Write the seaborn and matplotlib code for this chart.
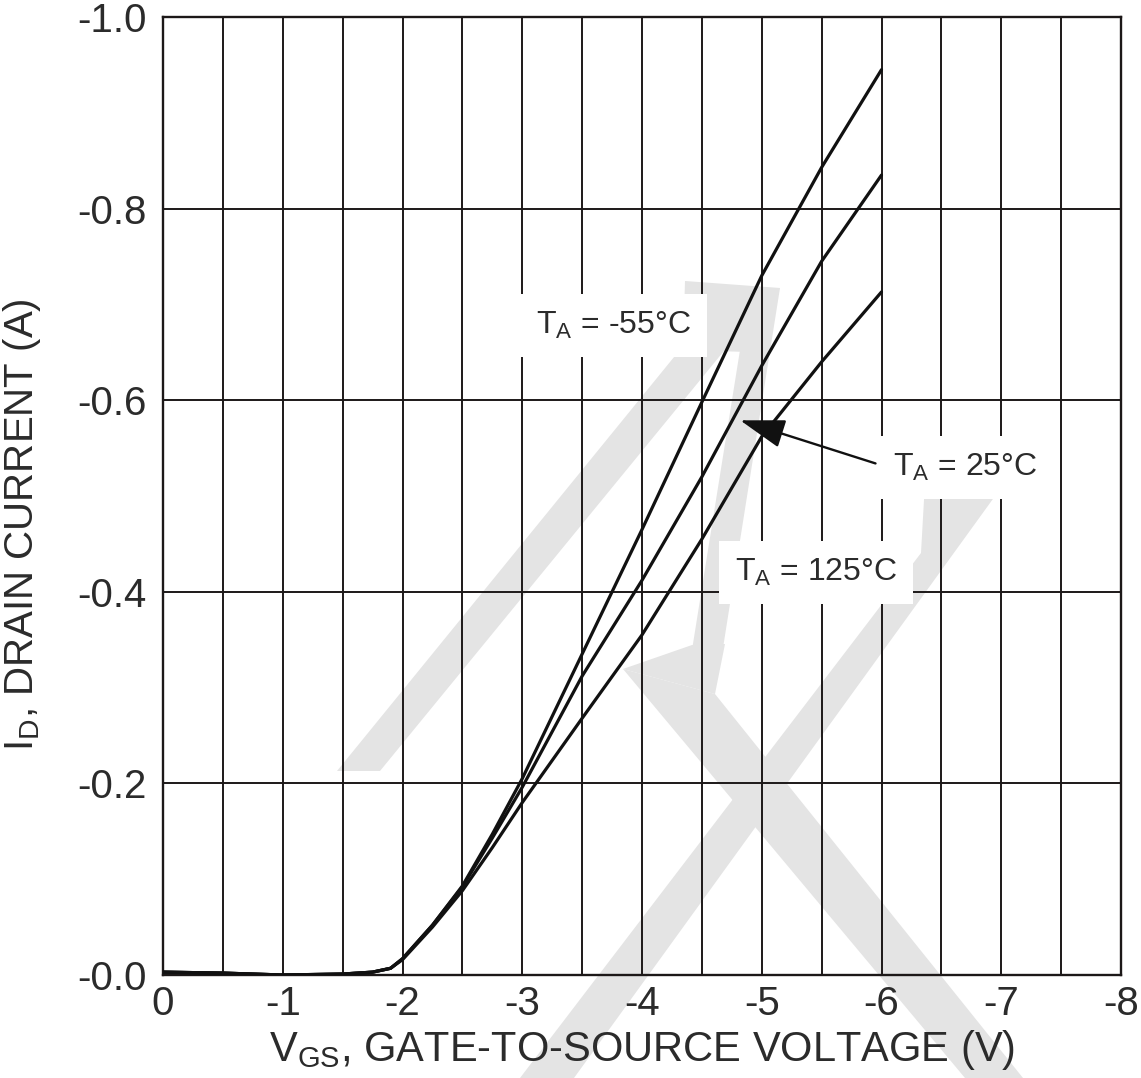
import matplotlib
matplotlib.use("Agg")
import numpy as np
import pandas as pd
import matplotlib.pyplot as plt
import seaborn as sns
from matplotlib.patches import Polygon

# ---------------- data ----------------
vgs = [0.0, -0.5, -1.0, -1.5, -1.75, -1.9, -2.0, -2.25, -2.5, -2.75,
       -3.0, -3.5, -4.0, -4.5, -5.0, -5.5, -6.0]
id_m55 = [-0.003, -0.002, 0.0, -0.001, -0.003, -0.007, -0.017, -0.052, -0.093, -0.147,
          -0.205, -0.335, -0.465, -0.598, -0.730, -0.843, -0.945]
id_25 = [-0.003, -0.002, 0.0, -0.001, -0.003, -0.007, -0.017, -0.052, -0.092, -0.143,
         -0.196, -0.312, -0.412, -0.520, -0.636, -0.745, -0.835]
id_125 = [-0.003, -0.002, 0.0, -0.001, -0.003, -0.007, -0.016, -0.050, -0.088, -0.133,
          -0.180, -0.268, -0.355, -0.455, -0.562, -0.640, -0.713]
series_names = ["-55", "25", "125"]

x_ticks = [0, -1, -2, -3, -4, -5, -6, -7, -8]
x_tick_labels = ["0", "-1", "-2", "-3", "-4", "-5", "-6", "-7", "-8"]
y_ticks = [0.0, -0.2, -0.4, -0.6, -0.8, -1.0]
y_tick_labels = ["-0.0", "-0.2", "-0.4", "-0.6", "-0.8", "-1.0"]

x_label = r"V$_{GS}$, GATE-TO-SOURCE VOLTAGE (V)"
y_label = r"I$_{D}$, DRAIN CURRENT (A)"
label_m55 = r"T$_{A}$ = -55°C"
label_25 = r"T$_{A}$ = 25°C"
label_125 = r"T$_{A}$ = 125°C"

df = pd.DataFrame({
    "VGS": vgs * 3,
    "ID": id_m55 + id_25 + id_125,
    "T": [series_names[0]] * len(vgs) + [series_names[1]] * len(vgs) + [series_names[2]] * len(vgs),
})

# ---------------- style ----------------
sns.set_style("white")
plt.rcParams["font.family"] = ["Liberation Sans", "DejaVu Sans"]
plt.rcParams["mathtext.default"] = "regular"
TXT = "#2b2b2b"
GRID = "#1c1818"

W, H = 1141, 1078
fig = plt.figure(figsize=(W / 100, H / 100), dpi=100)
fig.patch.set_facecolor("white")
ax = fig.add_axes([163 / W, 1 - 975 / H, 958 / W, 958 / H])
ax.patch.set_visible(False)

# ---------------- watermark (light grey logo behind grid) ----------------
def px(points):
    return [(x / W, 1 - y / H) for x, y in points]

wm_color = "#e4e4e4"
wm_shapes = [
    [(337, 771), (380, 771), (728, 346), (683, 346)],               # left leg
    [(683, 350), (685, 281), (780, 288), (748, 352)],                # top head
    [(748, 300), (780, 288), (723, 648), (692, 650)],                # right leg
    [(623, 669), (692, 645), (725, 644), (715, 694)],                # barbs
    [(623, 669), (715, 694), (1023, 1078), (965, 1078)],             # arm down-right
    [(520, 1078), (574, 1078), (1011, 474), (925, 482), (921, 553)], # arm down-left
]
for shp in wm_shapes:
    fig.add_artist(Polygon(px(shp), closed=True, facecolor=wm_color,
                           edgecolor="none", transform=fig.transFigure, zorder=-5))

# ---------------- curves ----------------
sns.lineplot(data=df, x="VGS", y="ID", hue="T", palette=["#111111"] * 3,
             legend=False, linewidth=2.3, ax=ax, zorder=3)

ax.set_xlim(0, -8)
ax.set_ylim(0, -1.0)

ax.set_xticks(x_ticks)
ax.set_xticklabels(x_tick_labels)
ax.set_xticks(np.arange(-0.5, -8.0, -1.0), minor=True)
ax.set_yticks(y_ticks)
ax.set_yticklabels(y_tick_labels)

ax.set_axisbelow(True)
ax.grid(which="major", axis="both", color=GRID, linewidth=1.4)
ax.grid(which="minor", axis="x", color=GRID, linewidth=1.4)

ax.tick_params(axis="x", which="both", direction="out", length=4, width=1.3,
               color=GRID, labelsize=29, labelcolor=TXT, pad=3)
ax.tick_params(axis="y", which="both", length=0, labelsize=29, labelcolor=TXT, pad=12)

for s in ax.spines.values():
    s.set_color(GRID)
    s.set_linewidth(1.7)
    s.set_visible(True)

ax.set_xlabel(x_label, fontsize=30, color=TXT, labelpad=4)
ax.set_ylabel(y_label, fontsize=29, color=TXT)
ax.yaxis.set_label_coords(-0.125, 0.47)

# ---------------- annotations ----------------
box = dict(boxstyle="square,pad=0.5", facecolor="white", edgecolor="none")
ax.text(-3.76, -0.678, label_m55, fontsize=23, color=TXT, ha="center", va="center",
        bbox=box, zorder=4)
ax.text(-6.70, -0.530, label_25, fontsize=23, color=TXT, ha="center", va="center",
        bbox=box, zorder=4)
ax.text(-5.45, -0.420, label_125, fontsize=23, color=TXT, ha="center", va="center",
        bbox=box, zorder=4)
ax.annotate("", xy=(-4.82, -0.579), xytext=(-5.95, -0.534),
            arrowprops=dict(arrowstyle="-|>,head_length=1.0,head_width=0.32",
                            color="#111111", lw=1.7, mutation_scale=28,
                            shrinkA=0, shrinkB=0),
            zorder=5)

fig.savefig("out.png", dpi=100, facecolor="white")
